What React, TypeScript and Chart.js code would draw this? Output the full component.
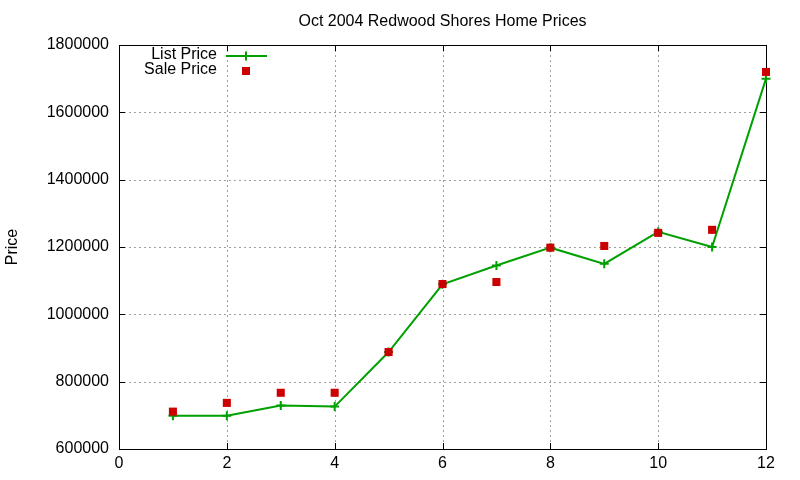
import React, { useEffect, useRef } from 'react';
import Chart from 'chart.js/auto';
import type { Plugin } from 'chart.js';

// Oct 2004 listings, x = house number
const houses = [1, 2, 3, 4, 5, 6, 7, 8, 9, 10, 11, 12];
const listPrices = [699000, 699000, 729000, 726000, 888000, 1089000, 1145000, 1198000, 1150000, 1245000, 1200000, 1700000];
const salePrices = [711000, 737000, 767000, 767000, 888000, 1090000, 1096000, 1198000, 1203000, 1242000, 1251000, 1720000];
const xTicks = [0, 2, 4, 6, 8, 10, 12];
const yTicks = [600000, 800000, 1000000, 1200000, 1400000, 1600000, 1800000];

const FONT = '16px "Liberation Sans", Arial, sans-serif';
const GREEN = '#00a000';
const RED = '#cc0000';

// gnuplot-like frame: dotted grid, inward ticks on all four sides, box, title, key
const framePlugin: Plugin<'line'> = {
  id: 'gnuframe',
  beforeDatasetsDraw(chart) {
    const { ctx, chartArea: a, scales } = chart;
    const xs = scales.x;
    const ys = scales.y;
    ctx.save();
    ctx.strokeStyle = '#a0a0a0';
    ctx.lineWidth = 1;
    ctx.setLineDash([2, 3]);
    xTicks.slice(1, -1).forEach((v) => {
      const px = Math.round(xs.getPixelForValue(v)) + 0.5;
      ctx.beginPath();
      ctx.moveTo(px, a.top);
      ctx.lineTo(px, a.bottom);
      ctx.stroke();
    });
    yTicks.slice(1, -1).forEach((v) => {
      const py = Math.round(ys.getPixelForValue(v)) + 0.5;
      ctx.beginPath();
      ctx.moveTo(a.left, py);
      ctx.lineTo(a.right, py);
      ctx.stroke();
    });
    ctx.setLineDash([]);
    ctx.strokeStyle = '#000';
    const t = 6;
    xTicks.forEach((v) => {
      const px = Math.round(xs.getPixelForValue(v)) + 0.5;
      ctx.beginPath();
      ctx.moveTo(px, a.bottom);
      ctx.lineTo(px, a.bottom - t);
      ctx.moveTo(px, a.top);
      ctx.lineTo(px, a.top + t);
      ctx.stroke();
    });
    yTicks.forEach((v) => {
      const py = Math.round(ys.getPixelForValue(v)) + 0.5;
      ctx.beginPath();
      ctx.moveTo(a.left, py);
      ctx.lineTo(a.left + t, py);
      ctx.moveTo(a.right, py);
      ctx.lineTo(a.right - t, py);
      ctx.stroke();
    });
    ctx.strokeRect(Math.round(a.left) + 0.5, Math.round(a.top) + 0.5, Math.round(a.right - a.left), Math.round(a.bottom - a.top));

    ctx.fillStyle = '#000';
    ctx.font = FONT;
    ctx.textAlign = 'center';
    ctx.textBaseline = 'middle';
    ctx.fillText('Oct 2004 Redwood Shores Home Prices', (a.left + a.right) / 2, 22);
    ctx.save();
    ctx.translate(13, 247);
    ctx.rotate(-Math.PI / 2);
    ctx.fillText('Price', 0, 0);
    ctx.restore();
    ctx.restore();
  },
  afterDatasetsDraw(chart) {
    const { ctx } = chart;
    ctx.save();
    ctx.font = FONT;
    ctx.fillStyle = '#000';
    ctx.textAlign = 'right';
    ctx.textBaseline = 'middle';
    ctx.fillText('List Price', 217, 55);
    ctx.fillText('Sale Price', 217, 70);
    ctx.strokeStyle = GREEN;
    ctx.lineWidth = 2;
    ctx.beginPath();
    ctx.moveTo(226, 56);
    ctx.lineTo(267, 56);
    ctx.moveTo(246, 51.5);
    ctx.lineTo(246, 60.5);
    ctx.stroke();
    ctx.fillStyle = RED;
    ctx.fillRect(242, 67, 8, 8);
    ctx.restore();
  },
};

const App: React.FC = () => {
  const canvasRef = useRef<HTMLCanvasElement | null>(null);

  useEffect(() => {
    if (!canvasRef.current) return;
    const chart = new Chart(canvasRef.current, {
      type: 'line',
      data: {
        datasets: [
          {
            label: 'Sale Price',
            data: houses.map((h, i) => ({ x: h, y: salePrices[i] })),
            showLine: false,
            pointStyle: 'rect',
            pointRadius: 5.7,
            pointBackgroundColor: RED,
            pointBorderColor: RED,
            pointBorderWidth: 0,
            clip: false,
            order: 0,
          },
          {
            label: 'List Price',
            data: houses.map((h, i) => ({ x: h, y: listPrices[i] })),
            borderColor: GREEN,
            borderWidth: 2,
            pointStyle: 'cross',
            pointRadius: 4.5,
            pointBorderColor: GREEN,
            pointBorderWidth: 2,
            tension: 0,
            clip: false,
            order: 1,
          },
        ],
      },
      options: {
        responsive: false,
        animation: false,
        layout: { padding: { top: 45, right: 34, left: 0, bottom: 0 } },
        plugins: { legend: { display: false }, tooltip: { enabled: false }, title: { display: false } },
        scales: {
          x: {
            type: 'linear',
            min: 0,
            max: 12,
            afterFit: (s) => { s.height = 31; },
            afterBuildTicks: (s) => { s.ticks = xTicks.map((v) => ({ value: v })); },
            grid: { display: false, drawTicks: false },
            border: { display: false },
            ticks: { color: '#000', padding: 5, maxRotation: 0, font: { family: '"Liberation Sans", Arial, sans-serif', size: 16 } },
          },
          y: {
            type: 'linear',
            min: 600000,
            max: 1800000,
            afterFit: (s) => { s.width = 119; },
            afterBuildTicks: (s) => { s.ticks = yTicks.map((v) => ({ value: v })); },
            grid: { display: false, drawTicks: false },
            border: { display: false },
            ticks: {
              color: '#000',
              padding: 10,
              font: { family: '"Liberation Sans", Arial, sans-serif', size: 16 },
              callback: (v) => String(v),
            },
          },
        },
      },
      plugins: [framePlugin],
    });
    return () => chart.destroy();
  }, []);

  return (
    <div style={{ position: 'fixed', left: 0, top: 0, width: 800, height: 480, background: '#fff' }}>
      <canvas ref={canvasRef} width={800} height={480}></canvas>
    </div>
  );
};

export default App;
